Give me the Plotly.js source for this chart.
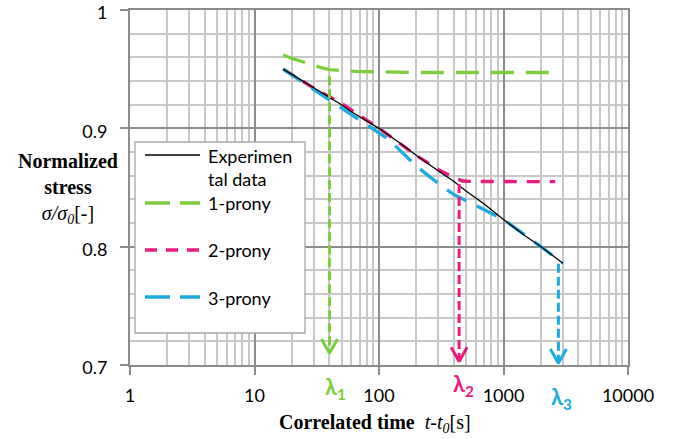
<!DOCTYPE html>
<html>
<head>
<meta charset="utf-8">
<script src="https://cdn.plot.ly/plotly-3.0.1.min.js"></script>
<style>html,body{margin:0;padding:0;background:#fff;}#chart{width:681px;height:439px;}</style>
</head>
<body>
<div id="chart"></div>
<script>
// Experimental data
const tExp = [17, 20, 25, 30, 40, 50, 60, 80, 100, 150, 200, 300, 400, 500, 700, 1000, 1500, 2000, 2500, 3000];
const sExp = [0.950, 0.9455, 0.939, 0.934, 0.9262, 0.920, 0.914, 0.906, 0.900, 0.887, 0.877, 0.864, 0.855, 0.847, 0.836, 0.823, 0.809, 0.800, 0.792, 0.786];
// 1-prony fit
const t1 = [17, 20, 25, 30, 35, 40, 50, 70, 100, 200, 2500];
const s1 = [0.962, 0.959, 0.956, 0.953, 0.951, 0.9497, 0.9487, 0.948, 0.9475, 0.9472, 0.9472];
// 2-prony fit
const t2 = [17, 30, 50, 100, 200, 300, 390, 470, 600, 1000, 2600];
const s2 = [0.950, 0.934, 0.921, 0.900, 0.877, 0.865, 0.859, 0.8555, 0.8551, 0.855, 0.855];
// 3-prony fit
const t3 = [17, 40, 70, 120, 200, 320, 400, 700, 1000, 2000, 3000];
const s3 = [0.950, 0.924, 0.907, 0.8905, 0.868, 0.851, 0.844, 0.831, 0.823, 0.800, 0.786];
// Relaxation times (arrows)
const lambdas = [40, 440, 2760];
const arrowTop = [0.944, 0.853, 0.7855];
const arrowTip = [0.710, 0.703, 0.7015];
const lambdaLabels = ['λ<sub>1</sub>', 'λ<sub>2</sub>', 'λ<sub>3</sub>'];
// Legend entries
const legendNames = ['Experimen<br>tal data', '1-prony', '2-prony', '3-prony'];
// Tick labels
const xTickVals = [1, 10, 100, 1000, 10000];
const xTickText = ['1', '10', '100', '1000', '10000'];
const yTickVals = [0.7, 0.8, 0.9, 1];
const yTickText = ['0.7', '0.8', '0.9', '1'];

const cGreen = '#7dcd3d', cPink = '#ec1a7f', cBlue = '#1aace0';
const colors = [cGreen, cPink, cBlue];

const traces = [
  {x: t1, y: s1, mode: 'lines', name: '1-prony', line: {color: cGreen, width: 3.3, dash: '23px,12px'}},
  {x: t2, y: s2, mode: 'lines', name: '2-prony', line: {color: cPink, width: 3.3, dash: '13px,10px'}},
  {x: t3, y: s3, mode: 'lines', name: '3-prony', line: {color: cBlue, width: 3.3, dash: '22px,12px'}},
  {x: tExp, y: sExp, mode: 'lines', name: 'Experimental data', line: {color: '#000', width: 1.3}}
];

// Arrows: dashed shaft + open chevron head
const hx = Math.pow(10, 8 / 124.4), hy = 0.012;
lambdas.forEach((lam, i) => {
  traces.push({x: [lam, lam], y: [arrowTop[i], arrowTip[i]], mode: 'lines',
    line: {color: colors[i], width: 3, dash: '9px,4px'}});
  traces.push({x: [lam / hx, lam, lam * hx], y: [arrowTip[i] + hy, arrowTip[i], arrowTip[i] + hy], mode: 'lines',
    line: {color: colors[i], width: 3}});
});

// pixel -> paper helpers (plot area: x 130..628, y 10..365)
const L = 130, W = 498, T = 10, H = 355;
const px = p => (p - L) / W;
const py = p => (T + H - p) / H;

const labelY = [388, 385, 398];
const labelShift = [6, 4, 3];
const annotations = lambdas.map((lam, i) => ({
  x: Math.log10(lam), xref: 'x', y: py(labelY[i]), yref: 'paper', xanchor: 'center', yanchor: 'middle', xshift: labelShift[i],
  text: '<b>' + lambdaLabels[i] + '</b>', showarrow: false,
  font: {family: 'Lato, sans-serif', size: 22, color: colors[i]}
}));
annotations.push({
  x: px(68), xref: 'paper', y: py(188), yref: 'paper', xanchor: 'center', yanchor: 'middle', showarrow: false, align: 'center',
  text: '<b>Normalized</b><br><b>stress</b><br><i>σ/σ<sub>0</sub></i>[-]',
  font: {family: 'Liberation Serif, serif', size: 20, color: '#000'}
});
annotations.push({
  x: px(375), xref: 'paper', y: py(423), yref: 'paper', xanchor: 'center', yanchor: 'middle', showarrow: false,
  text: '<b>Correlated time</b>  <i>t-t<sub>0</sub></i>[s]',
  font: {family: 'Liberation Serif, serif', size: 20, color: '#000'}
});

// Legend (drawn as box + samples + texts)
const legTextY = [167.5, 203, 250, 298];
const legLineY = [155, 203, 250, 297];
const legColors = ['#000', cGreen, cPink, cBlue];
const legWidths = [1.3, 3.3, 3.3, 3.3];
const legDash = ['solid', '25px,10px', '12px,9px', '25px,10px'];
const shapes = [{type: 'rect', xref: 'paper', yref: 'paper', x0: px(135), x1: px(305), y0: py(142), y1: py(333),
  fillcolor: '#fff', line: {color: '#a6a6a6', width: 1.3}, layer: 'above'}];
legendNames.forEach((n, i) => {
  shapes.push({type: 'line', xref: 'paper', yref: 'paper', x0: px(145), x1: px(200), y0: py(legLineY[i]), y1: py(legLineY[i]),
    line: {color: legColors[i], width: legWidths[i], dash: legDash[i]}, layer: 'above'});
  annotations.push({x: px(206), xref: 'paper', y: py(legTextY[i]), yref: 'paper', xanchor: 'left', yanchor: 'middle',
    showarrow: false, align: 'left', text: n, font: {family: 'Lato, sans-serif', size: 18, color: '#000'}});
});

const layout = {
  width: 681, height: 439,
  margin: {l: 130, r: 53, t: 10, b: 74},
  paper_bgcolor: '#fff', plot_bgcolor: '#fff',
  showlegend: false,
  xaxis: {type: 'log', range: [0, 4], tickvals: xTickVals, ticktext: xTickText,
    showgrid: true, gridcolor: '#8c8c8c', gridwidth: 2,
    minor: {dtick: 'D1', showgrid: true, gridcolor: '#c8c8c8', gridwidth: 2, ticks: ''},
    showline: true, mirror: true, linecolor: '#8c8c8c', linewidth: 2, ticks: 'outside', ticklen: 8, tickwidth: 2, tickcolor: '#8c8c8c',
    ticklabelstandoff: 5, ticklabeloverflow: 'allow', zeroline: false, tickfont: {family: 'Lato, sans-serif', size: 18, color: '#000'}},
  yaxis: {range: [0.7, 1], tickvals: yTickVals, ticktext: yTickText,
    showgrid: true, gridcolor: '#8c8c8c', gridwidth: 2,
    minor: {dtick: 0.02, tick0: 0.7, showgrid: true, gridcolor: '#c8c8c8', gridwidth: 2, ticks: ''},
    showline: true, mirror: true, linecolor: '#8c8c8c', linewidth: 2, ticks: 'outside', ticklen: 8, tickwidth: 2, tickcolor: '#8c8c8c',
    ticklabelstandoff: 9, ticklabelshift: 3, ticklabeloverflow: 'allow', zeroline: false, tickfont: {family: 'Lato, sans-serif', size: 18, color: '#000'}},
  shapes: shapes,
  annotations: annotations
};

Plotly.newPlot('chart', traces, layout, {staticPlot: true, displayModeBar: false});
</script>
</body>
</html>
